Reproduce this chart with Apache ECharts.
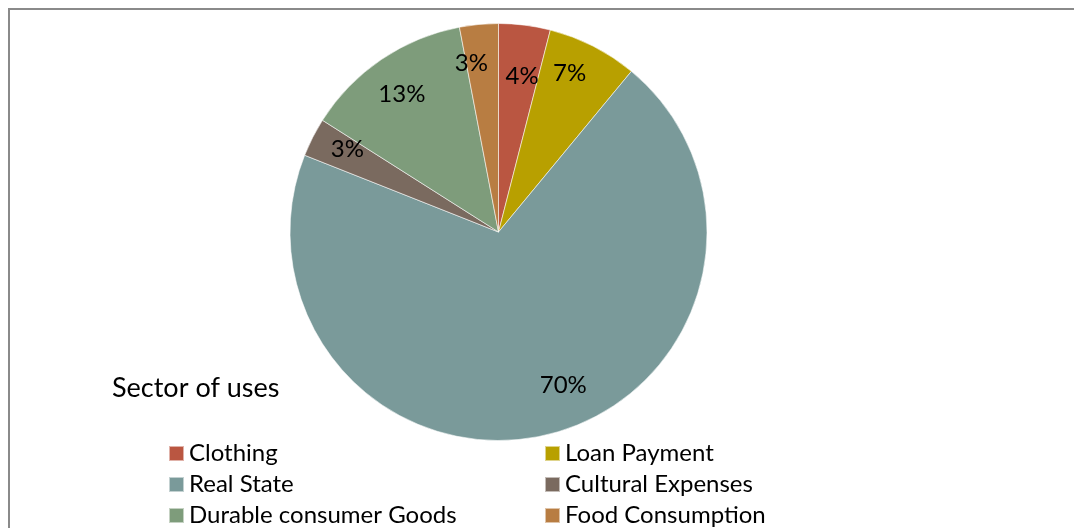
<!DOCTYPE html>
<html>
<head>
<meta charset="utf-8">
<script src="https://cdn.jsdelivr.net/npm/echarts@6/dist/echarts.min.js"></script>
<style>
  html, body { margin: 0; padding: 0; background: #fff; }
  #chart { width: 1074px; height: 528px; }
</style>
</head>
<body>
<div id="chart"></div>
<script>
// Sector of uses: share of each spending category (percent)
const categories = ['Clothing', 'Loan Payment', 'Real State', 'Cultural Expenses', 'Durable consumer Goods', 'Food Consumption'];
const shares = [4, 7, 70, 3, 13, 3];
const colors = ['#BA5641', '#B8A000', '#7A9A9A', '#7A6A5F', '#7E9C7B', '#B87D42'];
const legendLeft = ['Clothing', 'Real State', 'Durable consumer Goods'];
const legendRight = ['Loan Payment', 'Cultural Expenses', 'Food Consumption'];
// small nudges so the percentage labels sit clear of each other
const labelNudge = [[2, 15], [-7, -6], [22, -13], [2, -5], [0, 4], [-11, 2]];

const FONT = 'Lato, "Open Sans", sans-serif';
const cx = 498.5, cy = 232, R = 208.5;

const pieData = categories.map((name, i) => ({
  name: name,
  value: shares[i],
  itemStyle: { color: colors[i] }
}));

const legendBase = {
  orient: 'vertical',
  icon: 'rect',
  itemWidth: 15,
  itemHeight: 15,
  itemGap: 0,
  top: 438,
  height: 120,
  padding: 0,
  selectedMode: false,
  textStyle: { fontFamily: FONT, fontSize: 24, color: '#000', lineHeight: 31 }
};

const chart = echarts.init(document.getElementById('chart'), null, { renderer: 'canvas' });
chart.setOption({
  animation: false,
  color: colors,
  title: {
    text: 'Sector of uses',
    left: 107,
    top: 370,
    textStyle: { fontFamily: FONT, fontSize: 27, fontWeight: 'normal', color: '#000' }
  },
  legend: [
    Object.assign({}, legendBase, { left: 168, data: legendLeft }),
    Object.assign({}, legendBase, { left: 544, data: legendRight })
  ],
  graphic: [{
    type: 'rect',
    silent: true,
    shape: { x: 9, y: 9, width: 1200, height: 700 },
    style: { fill: 'none', stroke: '#8a8a8a', lineWidth: 2 }
  }],
  series: [
    {
      type: 'pie',
      center: [cx, cy],
      radius: [0, R],
      startAngle: 90,
      clockwise: true,
      label: { show: false },
      labelLine: { show: false },
      emphasis: { disabled: true },
      itemStyle: { borderColor: 'rgba(255,255,255,0.55)', borderWidth: 1 },
      data: pieData
    },
    {
      // transparent ring used only to place the percentage labels near the rim
      type: 'pie',
      center: [cx, cy],
      radius: [R * 0.62, R],
      startAngle: 90,
      clockwise: true,
      silent: true,
      emphasis: { disabled: true },
      itemStyle: { color: 'rgba(0,0,0,0)', borderWidth: 0 },
      label: {
        show: true,
        position: 'inside',
        fontFamily: FONT,
        fontSize: 24,
        color: '#000',
        formatter: (p) => p.value + '%'
      },
      labelLine: { show: false },
      data: categories.map((name, i) => ({
        name: name,
        value: shares[i],
        label: { offset: labelNudge[i] }
      }))
    }
  ]
});
</script>
</body>
</html>
